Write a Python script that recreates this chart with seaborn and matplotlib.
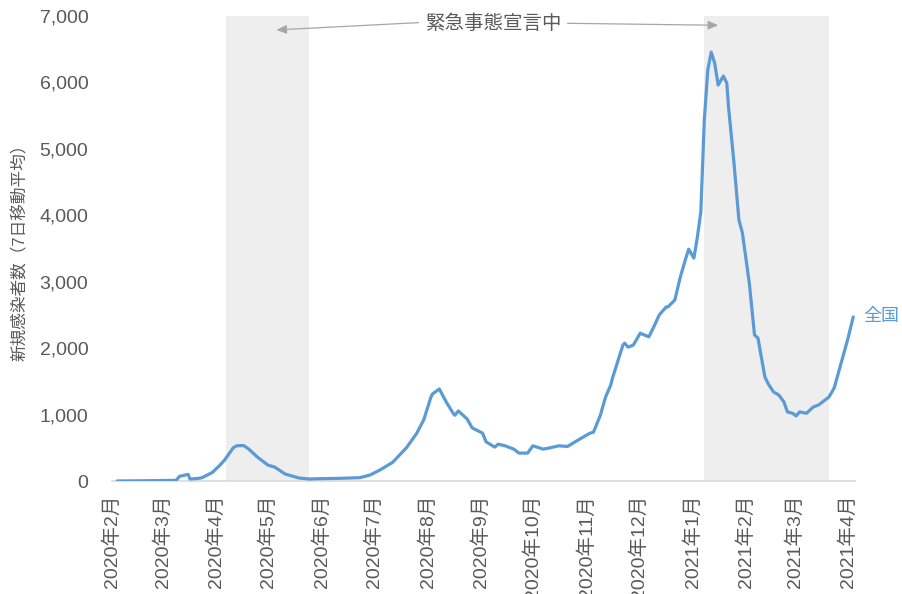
import matplotlib
matplotlib.use("Agg")
import matplotlib.pyplot as plt
import matplotlib.dates as mdates
from matplotlib.ticker import FuncFormatter
import pandas as pd
import seaborn as sns

# 全国の新規感染者数（7日移動平均）
dates = [
    "2020-02-04", "2020-02-20", "2020-03-09", "2020-03-11", "2020-03-16",
    "2020-03-17", "2020-03-22", "2020-03-24", "2020-03-30", "2020-04-03",
    "2020-04-06", "2020-04-11", "2020-04-13", "2020-04-17", "2020-04-20",
    "2020-04-25", "2020-05-01", "2020-05-05", "2020-05-11", "2020-05-19",
    "2020-05-25", "2020-05-31", "2020-06-11", "2020-06-23", "2020-06-29",
    "2020-07-05", "2020-07-12", "2020-07-20", "2020-07-26", "2020-07-30",
    "2020-08-03", "2020-08-04", "2020-08-08", "2020-08-12", "2020-08-16",
    "2020-08-17", "2020-08-19", "2020-08-24", "2020-08-27", "2020-09-02",
    "2020-09-04", "2020-09-09", "2020-09-11", "2020-09-15", "2020-09-20",
    "2020-09-23", "2020-09-28", "2020-10-01", "2020-10-07", "2020-10-11",
    "2020-10-16", "2020-10-21", "2020-10-28", "2020-11-03", "2020-11-05",
    "2020-11-09", "2020-11-12", "2020-11-15", "2020-11-16", "2020-11-22",
    "2020-11-23", "2020-11-25", "2020-11-28", "2020-12-02", "2020-12-07",
    "2020-12-10", "2020-12-13", "2020-12-17", "2020-12-18", "2020-12-22",
    "2020-12-25", "2020-12-28", "2020-12-30", "2021-01-02", "2021-01-04",
    "2021-01-06", "2021-01-08", "2021-01-10", "2021-01-12", "2021-01-14",
    "2021-01-16", "2021-01-19", "2021-01-21", "2021-01-22", "2021-01-25",
    "2021-01-28", "2021-01-30", "2021-02-03", "2021-02-06", "2021-02-08",
    "2021-02-12", "2021-02-14", "2021-02-17", "2021-02-20", "2021-02-23",
    "2021-02-25", "2021-02-28", "2021-03-02", "2021-03-04", "2021-03-08",
    "2021-03-12", "2021-03-15", "2021-03-21", "2021-03-24", "2021-03-28",
    "2021-04-01", "2021-04-04",
]
cases = [
    1, 4, 10, 70, 100,
    30, 40, 50, 130, 230,
    315, 500, 530, 535, 480,
    360, 240, 210, 105, 45,
    30, 35, 40, 50, 90,
    170, 280, 500, 720, 920,
    1250, 1310, 1385, 1190, 1020,
    990, 1055, 935, 800, 720,
    590, 510, 555, 530, 480,
    420, 420, 530, 480, 500,
    530, 520, 630, 720, 735,
    990, 1265, 1445, 1550, 2045,
    2075, 2015, 2045, 2225, 2170,
    2330, 2500, 2620, 2620, 2725,
    3055, 3325, 3490, 3355, 3670,
    4050, 5430, 6185, 6455, 6290,
    5960, 6095, 5990, 5630, 4830,
    3930, 3735, 2980, 2200, 2150,
    1565, 1460, 1340, 1295, 1190,
    1040, 1020, 980, 1040, 1020,
    1115, 1145, 1265, 1400, 1775,
    2150, 2470,
]

# 緊急事態宣言の期間
emergency_starts = ["2020-04-07", "2021-01-08"]
emergency_ends = ["2020-05-25", "2021-03-21"]

month_ticks = [
    "2020-02-01", "2020-03-01", "2020-04-01", "2020-05-01", "2020-06-01",
    "2020-07-01", "2020-08-01", "2020-09-01", "2020-10-01", "2020-11-01",
    "2020-12-01", "2021-01-01", "2021-02-01", "2021-03-01", "2021-04-01",
]
month_labels = [
    "2020年2月", "2020年3月", "2020年4月", "2020年5月", "2020年6月",
    "2020年7月", "2020年8月", "2020年9月", "2020年10月", "2020年11月",
    "2020年12月", "2021年1月", "2021年2月", "2021年3月", "2021年4月",
]
y_ticks = [0, 1000, 2000, 3000, 4000, 5000, 6000, 7000]

series_name = "全国"
y_title = "新規感染者数（7日移動平均）"
note_text = "緊急事態宣言中"

LINE = "#5B9BD5"
GREY_TXT = "#595959"
SHADE = "#EEEEEE"
ARROW = "#A6A6A6"

sns.set_theme(style="white")
plt.rcParams["font.family"] = ["Liberation Sans", "Noto Sans CJK JP", "DejaVu Sans"]

df = pd.DataFrame({"date": pd.to_datetime(dates), "cases": cases})

fig = plt.figure(figsize=(9.03, 5.94), dpi=100)
ax = fig.add_axes([0.124, 0.1902, 0.8228, 0.7829])

for s, e in zip(emergency_starts, emergency_ends):
    ax.axvspan(pd.Timestamp(s), pd.Timestamp(e), color=SHADE, lw=0, zorder=0)

sns.lineplot(data=df, x="date", y="cases", ax=ax, color=LINE,
             linewidth=2.3, zorder=3)

ax.set_xlim(pd.Timestamp("2020-02-01"), pd.Timestamp("2021-04-05"))
ax.set_ylim(0, 7000)
ax.set_yticks(y_ticks)
ax.yaxis.set_major_formatter(FuncFormatter(lambda v, p: f"{int(v):,}"))
ax.set_xticks([mdates.date2num(pd.Timestamp(t)) for t in month_ticks])
ax.set_xticklabels(month_labels, rotation=90)

ax.tick_params(axis="y", length=0, pad=17, labelsize=14, labelcolor=GREY_TXT)
ax.tick_params(axis="x", length=0, pad=10, labelsize=14, labelcolor=GREY_TXT)

ax.set_xlabel("")
ax.set_ylabel(y_title, fontsize=12, color=GREY_TXT, labelpad=8)

for side in ("top", "right", "left"):
    ax.spines[side].set_visible(False)
ax.spines["bottom"].set_color("#D9D9D9")
ax.spines["bottom"].set_linewidth(1.2)
ax.grid(False)

# 系列名ラベル
last = df.iloc[-1]
ax.annotate(series_name, xy=(last["date"], last["cases"]), xytext=(7, 0),
            textcoords="offset points", va="center", ha="left",
            fontsize=13, color=LINE, annotation_clip=False)

# 緊急事態宣言の注記と矢印
ax.text(pd.Timestamp("2020-09-08"), 6890, note_text, ha="center", va="center",
        fontsize=14, color=GREY_TXT, zorder=4)
arrow_style = dict(arrowstyle="-|>,head_length=0.5,head_width=0.22",
                   color=ARROW, lw=0.9, shrinkA=0, shrinkB=0)
ax.annotate("", xy=(pd.Timestamp("2020-05-06"), 6790),
            xytext=(pd.Timestamp("2020-07-27"), 6900), arrowprops=arrow_style)
ax.annotate("", xy=(pd.Timestamp("2021-01-16"), 6860),
            xytext=(pd.Timestamp("2020-10-21"), 6890), arrowprops=arrow_style)

fig.savefig("out.png", dpi=100)
